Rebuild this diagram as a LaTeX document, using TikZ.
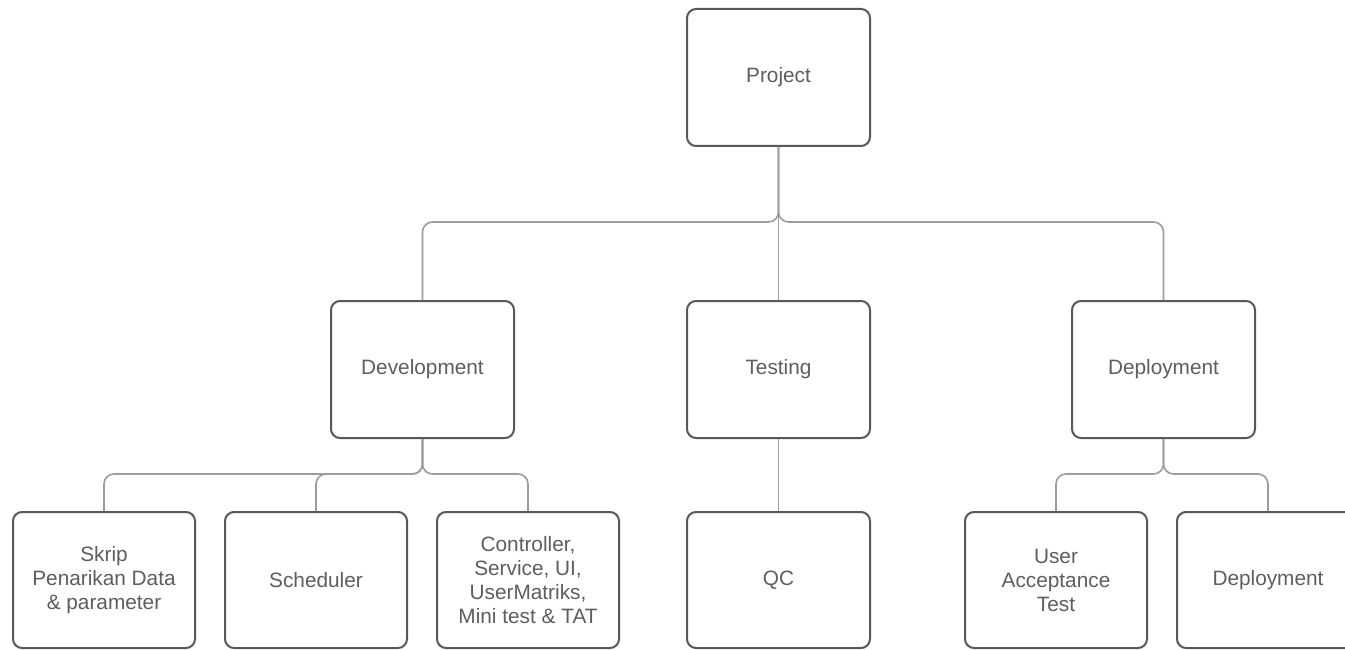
\documentclass[tikz,border=0pt]{standalone}
\usepackage{fontspec}
\setmainfont{Liberation Sans}
\definecolor{boxline}{HTML}{585858}
\definecolor{txt}{HTML}{5E5E5E}
\definecolor{conn}{HTML}{9C9C9C}
\begin{document}
\begin{tikzpicture}[x=1pt,y=-1pt,
  box/.style={draw=boxline, line width=2pt, rounded corners=9pt, fill=white,
    minimum width=183pt, minimum height=137pt, inner sep=2pt, align=center,
    text=txt, font=\fontsize{20.8pt}{24pt}\selectfont},
  link/.style={draw=conn, line width=1.6pt, rounded corners=10pt}]
\useasboundingbox (0,0) rectangle (1345,650);
\clip (0,0) rectangle (1345,650);
\fill[white] (0,0) rectangle (1345,650);
% top rows
\node[box] (proj)  at (778.5,77.5)  {Project};
\node[box] (dev)   at (422.5,369.5) {Development};
\node[box] (test)  at (778.5,369.5) {Testing};
\node[box] (depl)  at (1163.5,369.5) {Deployment};
% bottom row
\node[box, minimum width=182pt, minimum height=136pt] (skrip) at (104,580) {Skrip\\Penarikan Data\\\& parameter};
\node[box, minimum width=182pt, minimum height=136pt] (sched) at (316,580) {Scheduler};
\node[box, minimum width=182pt, minimum height=136pt] (ctrl)  at (528,580) {Controller,\\Service, UI,\\UserMatriks,\\Mini test \& TAT};
\node[box, minimum width=183pt, minimum height=136pt] (qc)    at (778.5,580) {QC};
\node[box, minimum width=182pt, minimum height=136pt] (uat)   at (1056,580) {User\\Acceptance\\Test};
\node[box, minimum width=182pt, minimum height=136pt] (depl2) at (1268,580) {Deployment};
% junction points
\coordinate (j1) at (778.5,222);
\coordinate (j2) at (422.5,474);
\coordinate (j3) at (1163.5,474);
% connectors
\draw[link] (proj.south) -- (test.north);
\draw[link] (dev.north) |- (j1) -- (proj.south);
\draw[link] (depl.north) |- (j1) -- (proj.south);
\draw[link] (skrip.north) |- (j2) -- (dev.south);
\draw[link] (sched.north) |- (j2) -- (dev.south);
\draw[link] (ctrl.north) |- (j2) -- (dev.south);
\draw[link] (test.south) -- (qc.north);
\draw[link] (uat.north) |- (j3) -- (depl.south);
\draw[link] (depl2.north) |- (j3) -- (depl.south);
\end{tikzpicture}
\end{document}
